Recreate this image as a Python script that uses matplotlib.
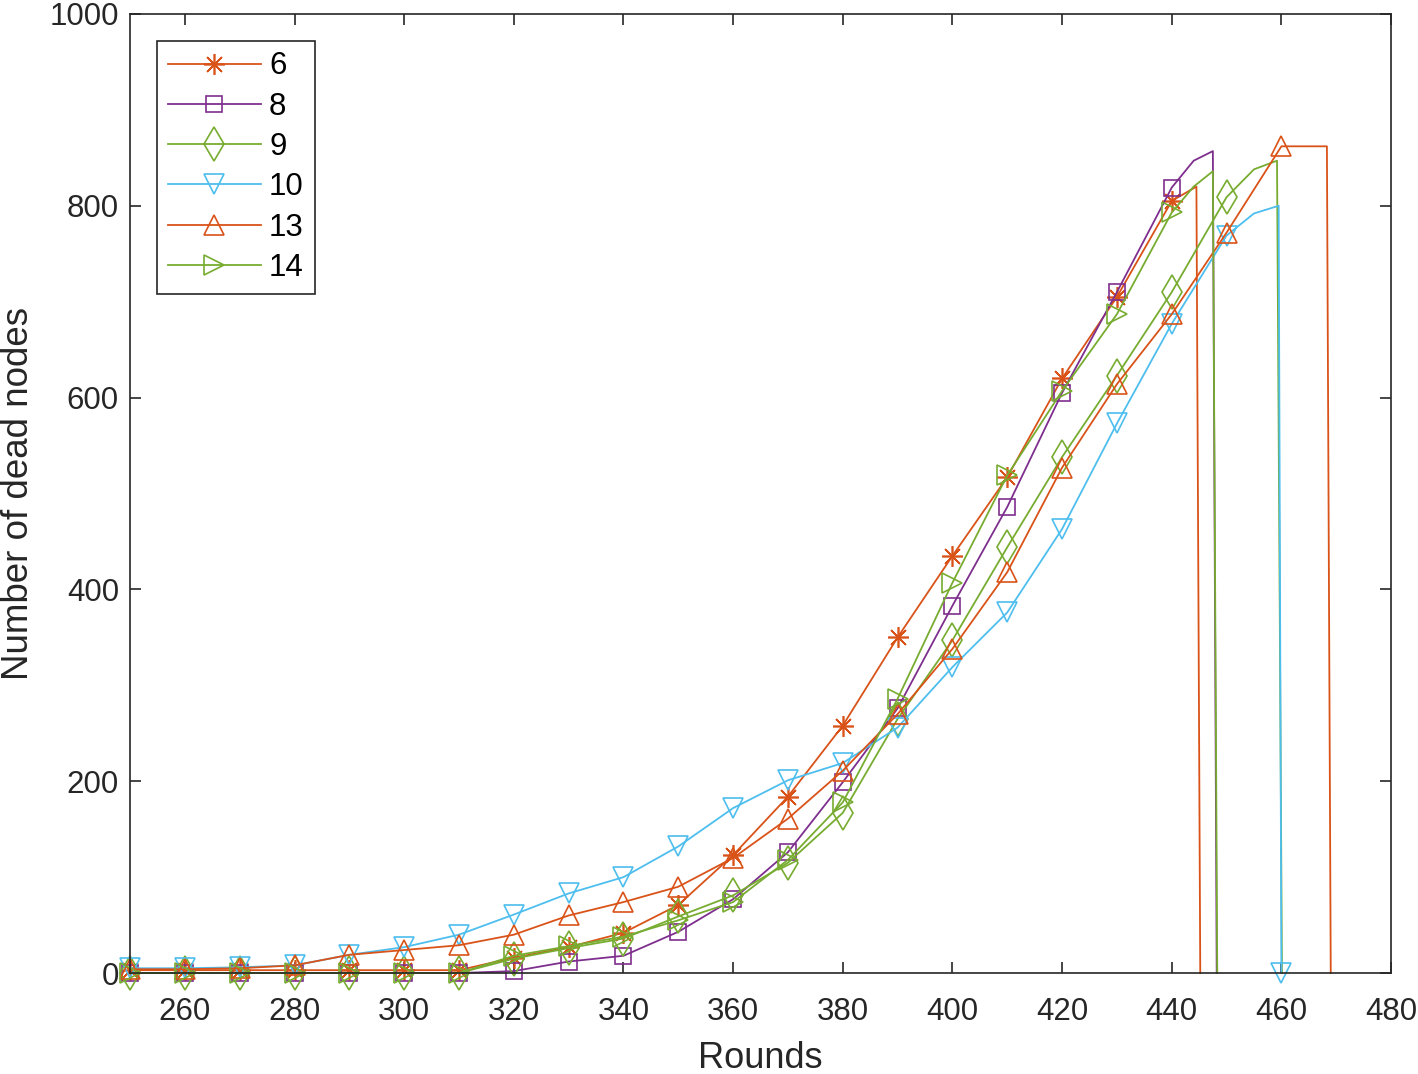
import matplotlib.pyplot as plt

plt.rcParams['font.family'] = ['Liberation Sans', 'DejaVu Sans']

# rounds / dead node counts (markers every 10 rounds)
r6 = [250, 260, 270, 280, 290, 300, 310, 320, 330, 340, 350, 360, 370, 380,
      390, 400, 410, 420, 430, 440, 444.5, 445.2]
v6 = [3, 3, 3, 3, 3, 3, 3, 16, 27, 42, 71, 123, 184, 258,
      350, 435, 517, 620, 705, 805, 820, 0]

r8 = [250, 260, 270, 280, 290, 300, 310, 320, 330, 340, 350, 360, 370, 380,
      390, 400, 410, 420, 430, 440, 444, 447.5, 448.2]
v8 = [0, 0, 0, 0, 0, 0, 0, 2, 12, 18, 43, 77, 126, 199,
      276, 383, 486, 605, 710, 819, 847, 857, 0]

r9 = [250, 260, 270, 280, 290, 300, 310, 320, 330, 340, 350, 360, 370, 380,
      390, 400, 410, 420, 430, 440, 450, 455, 459.2, 460.1]
v9 = [0, 0, 0, 0, 0, 0, 0, 15, 26, 36, 59, 81, 115, 167,
      265, 347, 444, 538, 623, 710, 809, 838, 847, 0]

r10 = [250, 260, 270, 280, 290, 300, 310, 320, 330, 340, 350, 360, 370, 380,
       390, 400, 410, 420, 430, 440, 450, 455, 459.5, 460]
v10 = [5, 5, 6, 8, 19, 27, 40, 61, 83, 100, 132, 172, 201, 219,
       256, 319, 376, 463, 573, 677, 769, 792, 800, 0]

r13 = [250, 260, 270, 280, 290, 300, 310, 320, 330, 340, 350, 360, 370, 380,
       390, 400, 410, 420, 430, 440, 450, 460, 468.3, 469]
v13 = [4, 4, 5, 8, 19, 24, 29, 40, 60, 74, 90, 120, 161, 211,
       270, 338, 418, 527, 614, 687, 772, 862, 862, 0]

r14 = [250, 260, 270, 280, 290, 300, 310, 320, 330, 340, 350, 360, 370, 380,
       390, 400, 410, 420, 430, 440, 444, 447.5, 448.3]
v14 = [0, 0, 0, 0, 0, 0, 0, 18, 28, 38, 55, 74, 118, 178,
       286, 407, 519, 607, 687, 793, 820, 836, 0]

labels = ['6', '8', '9', '10', '13', '14']

orange = '#D95319'
purple = '#7E2F8E'
green = '#77AC30'
cyan = '#4DBEEE'

series = [
    (r6, v6, orange, (8, 2, 0), 15),
    (r8, v8, purple, 's', 12),
    (r9, v9, green, 'd', 17),
    (r10, v10, cyan, 'v', 15),
    (r13, v13, orange, '^', 15),
    (r14, v14, green, '>', 15),
]

fig = plt.figure(figsize=(14.18, 10.74), dpi=100)
ax = fig.add_axes([0.0917, 0.094, 0.8893, 0.893])

for (rr, vv, col, mk, ms), lab in zip(series, labels):
    idx = [i for i, r in enumerate(rr) if r % 10 == 0]
    ax.plot(rr, vv, color=col, lw=1.3, marker=mk, markersize=ms,
            markerfacecolor='none', markeredgecolor=col, markeredgewidth=1.2,
            markevery=idx, clip_on=False, label=lab)

ax.set_xlim(250, 480)
ax.set_ylim(0, 1000)
ax.set_xticks(range(260, 481, 20))
ax.set_yticks(range(0, 1001, 200))

dark = '#262626'
for sp in ax.spines.values():
    sp.set_color(dark)
    sp.set_linewidth(1.2)
ax.tick_params(direction='in', length=8, width=1.2, colors=dark,
               labelsize=22.5, top=True, right=True)
ax.tick_params(axis='x', pad=17)
ax.tick_params(axis='y', pad=8)

ax.set_xlabel('Rounds', fontsize=26, color=dark, labelpad=10)
ax.set_ylabel('Number of dead nodes', fontsize=26.5, color=dark, labelpad=10)

leg = ax.legend(loc='upper left', fontsize=22.5, handlelength=3.0,
                labelspacing=0.33, borderaxespad=0.85, handletextpad=0.25,
                borderpad=0.35, fancybox=False, framealpha=1)
leg.get_frame().set_edgecolor(dark)
leg.get_frame().set_linewidth(1.2)

fig.savefig('out.png', dpi=100)
